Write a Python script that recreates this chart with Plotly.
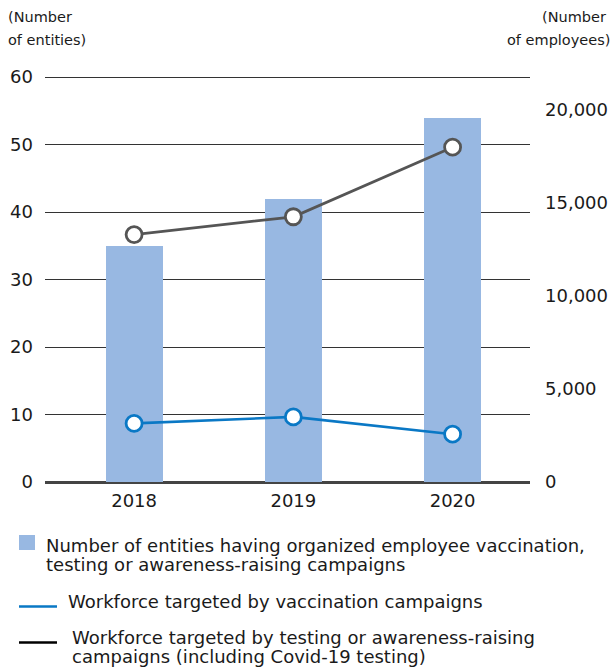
import plotly.graph_objects as go

years = ["2018", "2019", "2020"]
entities = [35, 42, 54]
vaccination_workforce = [3150, 3500, 2570]
testing_workforce = [13300, 14260, 18000]
left_ticks = [0, 10, 20, 30, 40, 50, 60]
right_ticks = [0, 5000, 10000, 15000, 20000]
right_tick_labels = ["0", "5,000", "10,000", "15,000", "20,000"]

W, H = 613, 668
L, R, T, B = 45, 530, 75, 482
FONT = "DejaVu Sans"
TXT = "#1a1a1a"
BAR = "#98B8E2"
BLUE = "#0A78C5"
GRAY = "#555555"
LEG = 18


def px(x):
    return (x - L) / (R - L)


def py(y):
    return (B - y) / (B - T)


fig = go.Figure()
fig.add_trace(go.Bar(
    x=years, y=entities, marker=dict(color=BAR, line=dict(width=0)),
    width=0.358, yaxis="y", showlegend=False, hoverinfo="y"))
fig.add_trace(go.Scatter(
    x=years, y=testing_workforce, yaxis="y2", mode="lines+markers",
    line=dict(color=GRAY, width=2.8),
    marker=dict(size=16, color="white", line=dict(color=GRAY, width=2.8)),
    showlegend=False))
fig.add_trace(go.Scatter(
    x=years, y=vaccination_workforce, yaxis="y2", mode="lines+markers",
    line=dict(color=BLUE, width=2.6),
    marker=dict(size=16, color="white", line=dict(color=BLUE, width=2.8)),
    showlegend=False))

shapes = [
    dict(type="rect", xref="paper", yref="paper", x0=px(19), x1=px(35),
         y0=py(550), y1=py(535), fillcolor=BAR, line=dict(width=0)),
    dict(type="line", xref="paper", yref="paper", x0=px(19), x1=px(57),
         y0=py(606.5), y1=py(606.5), line=dict(color=BLUE, width=2.5)),
    dict(type="line", xref="paper", yref="paper", x0=px(19), x1=px(57),
         y0=py(642.5), y1=py(642.5), line=dict(color="#000000", width=2.5)),
]


def label(text, x, y, anchor="left", size=LEG):
    return dict(text=text, xref="paper", yref="paper", x=px(x), y=py(y),
                xanchor=anchor, yanchor="middle", align=anchor,
                showarrow=False, borderpad=0,
                font=dict(family=FONT, size=size, color=TXT))


annotations = [
    label("(Number", 7, 17, size=14.5),
    label("of entities)", 7, 40, size=14.5),
    label("(Number", 607, 17, anchor="right", size=14.5),
    label("of employees)", 611, 40, anchor="right", size=14.5),
    label("Number of entities having organized employee vaccination,", 45, 545),
    label("testing or awareness-raising campaigns", 45, 564.5),
    label("Workforce targeted by vaccination campaigns", 67, 601.5),
    label("Workforce targeted by testing or awareness-raising", 71, 637),
    label("campaigns (including Covid-19 testing)", 71, 656),
]

fig.update_layout(
    width=W, height=H,
    margin=dict(l=L, r=W - R, t=T, b=H - B, pad=0, autoexpand=False),
    paper_bgcolor="white", plot_bgcolor="white",
    font=dict(family=FONT, size=18, color=TXT),
    bargap=0,
    xaxis=dict(type="category", range=[-0.5595, 2.486], showgrid=False,
               showline=False, zeroline=False, ticks="", automargin=False,
               tickfont=dict(size=18, color=TXT), ticklabelstandoff=6),
    yaxis=dict(range=[0, 60.3], tickvals=left_ticks, showgrid=True,
               gridcolor="#333333", gridwidth=1, zeroline=True,
               zerolinecolor="#444444", zerolinewidth=2.5, showline=False,
               ticks="", tickfont=dict(size=18, color=TXT), automargin=False,
               ticklabelstandoff=11),
    yaxis2=dict(overlaying="y", side="right", range=[0, 21882],
                tickvals=right_ticks, ticktext=right_tick_labels,
                showgrid=False, zeroline=False, showline=False, ticks="",
                automargin=False,
                tickfont=dict(size=18, color=TXT), ticklabelstandoff=14),
    shapes=shapes, annotations=annotations,
    showlegend=False,
)

fig.write_html("out.html")
